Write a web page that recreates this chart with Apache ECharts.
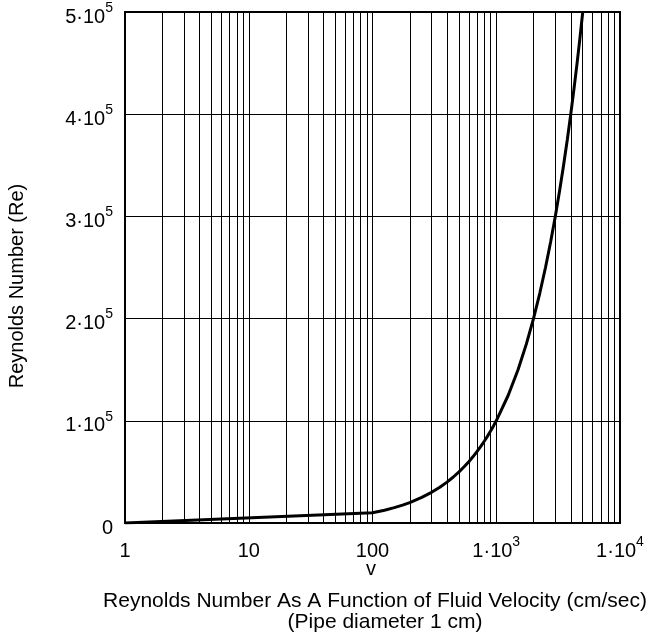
<!DOCTYPE html>
<html><head><meta charset="utf-8">
<script src="https://cdn.jsdelivr.net/npm/echarts@6/dist/echarts.min.js"></script>
<style>html,body{margin:0;padding:0;background:#fff}#c{width:653px;height:640px}</style>
</head><body><div id="c"></div>
<script>
// Data
const velocity = [1, 100, 125, 150, 175, 200, 250, 300, 350, 400, 450, 500, 550, 600, 650, 700, 750, 800, 850, 900, 950, 1000, 1250, 1500, 1750, 2000, 2250, 2500, 2750, 3000, 3250, 3500, 3750, 4000, 4250, 4500, 4750, 5000];
const reynolds = [100, 10000, 12500, 15000, 17500, 20000, 25000, 30000, 35000, 40000, 45000, 50000, 55000, 60000, 65000, 70000, 75000, 80000, 85000, 90000, 95000, 100000, 125000, 150000, 175000, 200000, 225000, 250000, 275000, 300000, 325000, 350000, 375000, 400000, 425000, 450000, 475000, 500000];
const xTickValues = [1, 10, 100, 1000, 10000];
const xTickLabels = ['{b|1}', '{b|10}', '{b|100}', '{b|1·10}{s|3}', '{b|1·10}{s|4}'];
const yTickValues = [0, 100000, 200000, 300000, 400000, 500000];
const yTickLabels = ['{b|0}', '{b|1·10}{s|5}', '{b|2·10}{s|5}', '{b|3·10}{s|5}', '{b|4·10}{s|5}', '{b|5·10}{s|5}'];
const minorGridV = [2,3,4,5,6,7,8,9,20,30,40,50,60,70,80,90,200,300,400,500,600,700,800,900,2000,3000,4000,5000,6000,7000,8000,9000];

const FONT = 'Liberation Sans, Arial, sans-serif';
const rich = {
  b: {fontSize: 20, fontFamily: FONT, color: '#000', lineHeight: 26, verticalAlign: 'bottom'},
  s: {fontSize: 14, fontFamily: FONT, color: '#000', lineHeight: 14, verticalAlign: 'top'}
};

const chart = echarts.init(document.getElementById('c'), null, {renderer: 'canvas'});
chart.setOption({
  animation: false,
  backgroundColor: '#fff',
  grid: {left: 125, right: 33, top: 12, bottom: 117, show: false},
  xAxis: {
    type: 'log', logBase: 10, min: 1, max: 10000,
    axisLine: {show: true, onZero: false, lineStyle: {color: '#000', width: 2}},
    axisTick: {show: false},
    splitLine: {show: true, lineStyle: {color: '#000', width: 1}},
    axisLabel: {
      margin: 12, fontSize: 20, fontFamily: FONT, color: '#000', rich: rich,
      formatter: v => { const i = xTickValues.findIndex(t => Math.abs(Math.log10(t) - Math.log10(v)) < 1e-6); return i >= 0 ? xTickLabels[i] : ''; }
    }
  },
  yAxis: {
    type: 'value', min: 0, max: 500000, interval: 100000,
    axisLine: {show: true, lineStyle: {color: '#000', width: 2}},
    axisTick: {show: false},
    splitLine: {show: true, lineStyle: {color: '#000', width: 1}},
    axisLabel: {
      margin: 12, fontSize: 20, fontFamily: FONT, color: '#000', rich: rich,
      padding: [4, 0, 0, 0],
      formatter: v => { const i = yTickValues.indexOf(v); return i >= 0 ? yTickLabels[i] : ''; }
    }
  },
  graphic: [
    {type: 'rect', shape: {x: 125, y: 12, width: 495, height: 511}, style: {fill: 'none', stroke: '#000', lineWidth: 2}, z: 100},
    {type: 'text', x: 17, y: 286, rotation: Math.PI / 2, style: {text: 'Reynolds Number (Re)', font: '20px ' + FONT, fill: '#000', textAlign: 'center', textVerticalAlign: 'middle'}},
    {type: 'text', x: 371, y: 569, style: {text: 'v', font: '20px ' + FONT, fill: '#000', textAlign: 'center', textVerticalAlign: 'middle'}},
    {type: 'text', x: 375, y: 601, style: {text: 'Reynolds Number As A Function of Fluid Velocity (cm/sec)', font: '21px ' + FONT, fill: '#000', textAlign: 'center', textVerticalAlign: 'middle'}},
    {type: 'text', x: 385, y: 622, style: {text: '(Pipe diameter 1 cm)', font: '21px ' + FONT, fill: '#000', textAlign: 'center', textVerticalAlign: 'middle'}}
  ],
  series: [
    {
      type: 'line', data: velocity.map((v, i) => [v, reynolds[i]]),
      showSymbol: false, symbol: 'none', clip: true,
      lineStyle: {color: '#000', width: 3}, z: 10,
      markLine: {
        silent: true, symbol: ['none', 'none'], label: {show: false},
        lineStyle: {color: '#000', width: 1, type: 'solid'},
        data: minorGridV.map(v => ({xAxis: v}))
      }
    }
  ]
});
</script></body></html>
